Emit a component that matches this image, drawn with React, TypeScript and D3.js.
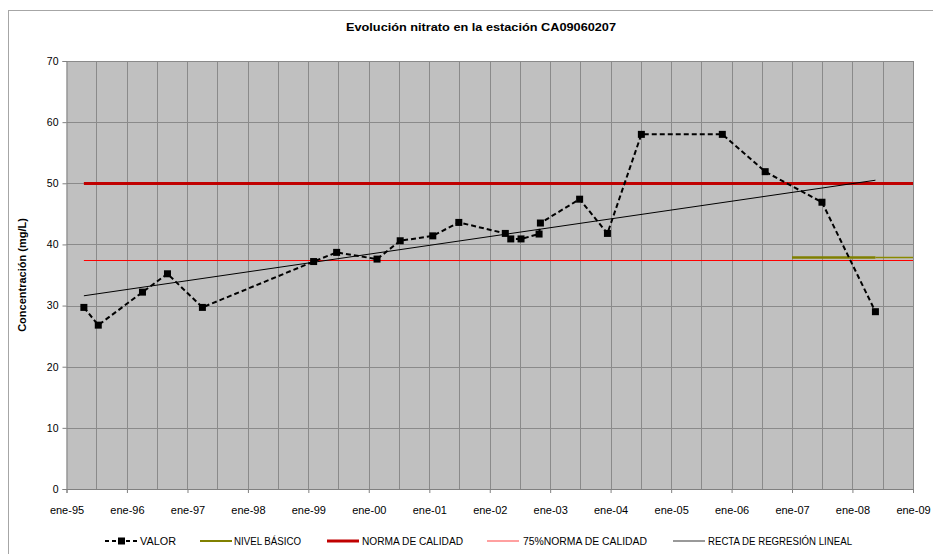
import React, { useRef, useEffect } from 'react';
import * as d3 from 'd3';

// sample dates and nitrate values (mg/L)
const FECHAS = [
  "1995-04-16", "1995-07-12", "1996-04-04", "1996-09-02", "1997-04-01",
  "1999-02-02", "1999-06-21", "2000-02-20", "2000-07-09", "2001-01-22",
  "2001-06-28", "2002-04-05", "2002-05-08", "2002-07-09", "2002-10-26",
  "2002-11-03", "2003-06-28", "2003-12-13", "2004-07-05", "2005-11-06",
  "2006-07-23", "2007-07-01", "2008-05-19"
];
const VALOR = [
  29.7, 26.8, 32.2, 35.2, 29.7,
  37.2, 38.7, 37.6, 40.6, 41.4,
  43.6, 41.8, 40.9, 40.9, 41.7,
  43.5, 47.4, 41.8, 58.0, 58.0,
  51.9, 46.9, 29.0
];
const NORMA_CALIDAD = 50;
const NORMA_75 = 37.5;
const NIVEL_BASICO = 38;
const NIVEL_DESDE = "2007-01-01";
const REGRESION = [31.6, 50.5]; // at first and last sample date
const Y_TICKS = [0, 10, 20, 30, 40, 50, 60, 70];
const X_DOMAIN = ["1995-01-01", "2009-01-01"];
const LEGEND = [
  { label: "VALOR", len: 36 },
  { label: "NIVEL BÁSICO", len: 67 },
  { label: "NORMA DE CALIDAD", len: 101 },
  { label: "75%NORMA DE CALIDAD", len: 124 },
  { label: "RECTA DE REGRESIÓN LINEAL", len: 144 }
];
const meses = ["ene", "feb", "mar", "abr", "may", "jun", "jul", "ago", "sep", "oct", "nov", "dic"];

const App = () => {
  const svgRef = useRef(null);

  useEffect(() => {
    const W = 933, H = 554;
    const margin = { left: 66.5, right: 20, top: 61, bottom: 65 };
    const parse = d3.timeParse("%Y-%m-%d");
    const fechas = FECHAS.map(parse);
    const first = fechas[0], last = fechas[fechas.length - 1];
    const end = parse(X_DOMAIN[1]);

    const svg = d3.select(svgRef.current);
    svg.selectAll("*").remove();
    svg.style("font-family", "'Liberation Sans', Arial, sans-serif");

    const x = d3.scaleTime()
      .domain(X_DOMAIN.map(parse))
      .range([margin.left, W - margin.right]);
    const y = d3.scaleLinear()
      .domain([0, 70])
      .range([H - margin.bottom, margin.top]);
    const crisp = v => Math.round(v) + 0.5;

    // chart frame
    svg.append("rect")
      .attr("x", 8.5).attr("y", 10.5)
      .attr("width", W).attr("height", H)
      .attr("fill", "white")
      .attr("stroke", "#a6a6a6");

    // title
    svg.append("text")
      .attr("x", 481).attr("y", 31)
      .attr("text-anchor", "middle")
      .attr("font-size", 11).attr("font-weight", "bold")
      .attr("textLength", 270).attr("lengthAdjust", "spacingAndGlyphs")
      .text("Evolución nitrato en la estación CA09060207");

    // plot area
    svg.append("rect")
      .attr("x", x.range()[0]).attr("y", y(70))
      .attr("width", x.range()[1] - x.range()[0])
      .attr("height", y(0) - y(70))
      .attr("fill", "#c0c0c0");

    // grid
    const grid = svg.append("g").attr("stroke", "#8a8a8a").attr("stroke-width", 1);
    grid.selectAll("line.v")
      .data(d3.timeMonth.every(6).range(x.domain()[0], d3.timeDay.offset(end, 1)).slice(1))
      .join("line")
      .attr("x1", d => crisp(x(d))).attr("x2", d => crisp(x(d)))
      .attr("y1", y(70)).attr("y2", y(0));
    grid.selectAll("line.h")
      .data(Y_TICKS.slice(1))
      .join("line")
      .attr("x1", x.range()[0]).attr("x2", x.range()[1])
      .attr("y1", d => crisp(y(d))).attr("y2", d => crisp(y(d)));

    // axes
    const yAxis = svg.append("g")
      .attr("transform", `translate(${x.range()[0]},0)`)
      .call(d3.axisLeft(y).tickValues(Y_TICKS).tickSize(4).tickPadding(4));
    yAxis.selectAll("path, line").attr("stroke", "#808080");
    yAxis.selectAll("text").attr("font-size", 10.5).attr("fill", "#000").attr("font-family", null);

    const xAxis = svg.append("g")
      .attr("transform", `translate(0,${y(0)})`)
      .call(d3.axisBottom(x)
        .tickValues(d3.timeYear.range(x.domain()[0], d3.timeDay.offset(end, 1)))
        .tickSize(4).tickPadding(13)
        .tickFormat(d => `${meses[d.getMonth()]}-${d3.timeFormat("%y")(d)}`));
    xAxis.selectAll("path, line").attr("stroke", "#808080");
    xAxis.selectAll("text").attr("font-size", 11).attr("fill", "#000").attr("font-family", null);

    // y axis label
    svg.append("text")
      .attr("transform", `translate(26,${(y(0) + y(70)) / 2}) rotate(-90)`)
      .attr("text-anchor", "middle")
      .attr("font-size", 11).attr("font-weight", "bold")
      .text("Concentración (mg/L)");

    const line = d3.line().x(d => x(d[0])).y(d => y(d[1]));
    const hline = (d0, d1, v) => `M${x(d0)},${crisp(y(v))}H${x(d1)}`;

    // reference lines
    svg.append("path")
      .attr("d", hline(first, end, NORMA_75))
      .attr("stroke", "#ff0000").attr("stroke-width", 1).attr("fill", "none");
    svg.append("path")
      .attr("d", hline(first, end, NORMA_CALIDAD))
      .attr("stroke", "#c00000").attr("stroke-width", 3).attr("fill", "none");
    svg.append("path")
      .attr("d", hline(parse(NIVEL_DESDE), last, NIVEL_BASICO))
      .attr("stroke", "#808000").attr("stroke-width", 2.5).attr("fill", "none");
    svg.append("path")
      .attr("d", hline(last, end, NIVEL_BASICO))
      .attr("stroke", "#8a8a00").attr("stroke-width", 1.5).attr("fill", "none");

    // regression
    svg.append("path")
      .attr("d", line([[first, REGRESION[0]], [last, REGRESION[1]]]))
      .attr("stroke", "#000").attr("stroke-width", 1).attr("fill", "none");

    // valor series
    const pts = fechas.map((d, i) => [d, VALOR[i]]);
    svg.append("path")
      .attr("d", line(pts))
      .attr("stroke", "#000").attr("stroke-width", 2)
      .attr("stroke-dasharray", "5,3").attr("fill", "none");
    svg.append("g").selectAll("rect")
      .data(pts)
      .join("rect")
      .attr("x", d => x(d[0]) - 3.5).attr("y", d => y(d[1]) - 3.5)
      .attr("width", 7).attr("height", 7)
      .attr("fill", "#000");

    // legend
    const ly = 541;
    const lg = svg.append("g");
    const samples = [
      { x0: 105, x1: 138, tx: 140 },
      { x0: 200, x1: 232, tx: 234 },
      { x0: 327, x1: 359, tx: 362 },
      { x0: 487, x1: 519, tx: 523 },
      { x0: 673, x1: 705, tx: 708 }
    ];
    const styles = [
      { stroke: "#000", w: 2, dash: "4,3" },
      { stroke: "#808000", w: 2, dash: null },
      { stroke: "#c00000", w: 3, dash: null },
      { stroke: "#ff6060", w: 1.2, dash: null },
      { stroke: "#555", w: 1.2, dash: null }
    ];
    LEGEND.forEach((item, i) => {
      const s = samples[i], st = styles[i];
      lg.append("line")
        .attr("x1", s.x0).attr("x2", s.x1)
        .attr("y1", ly).attr("y2", ly)
        .attr("stroke", st.stroke).attr("stroke-width", st.w)
        .attr("stroke-dasharray", st.dash);
      if (i === 0) {
        lg.append("rect")
          .attr("x", (s.x0 + s.x1) / 2 - 3.5).attr("y", ly - 3.5)
          .attr("width", 7).attr("height", 7).attr("fill", "#000");
      }
      lg.append("text")
        .attr("x", s.tx).attr("y", ly + 4)
        .attr("font-size", 10)
        .attr("textLength", item.len).attr("lengthAdjust", "spacingAndGlyphs")
        .text(item.label);
    });
  }, []);

  return (
    <svg ref={svgRef} width={933} height={554}
      style={{ position: "absolute", left: 0, top: 0, display: "block" }} />
  );
};

export default App;
